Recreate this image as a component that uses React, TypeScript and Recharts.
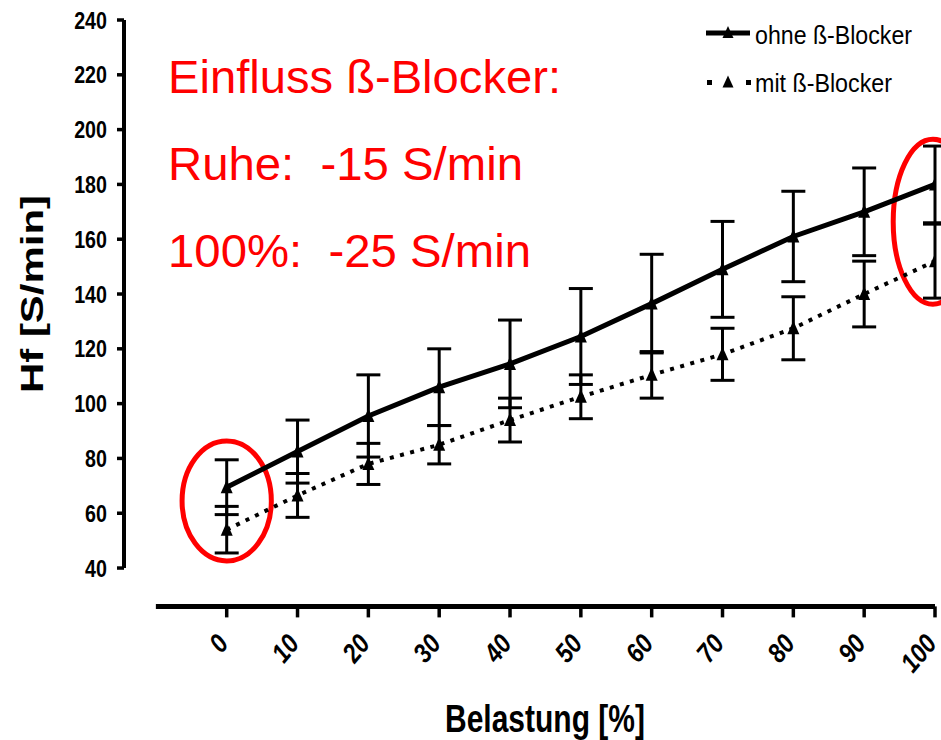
import { LineChart, Line, XAxis, YAxis, ErrorBar, ReferenceLine, ReferenceArea, Legend, Customized } from 'recharts';

// Belastung in %
const loads = [0, 10, 20, 30, 40, 50, 60, 70, 80, 90, 100];
// Hf ohne ß-Blocker (Mittelwert, SD)
const ohne = [69.5, 82.5, 95.5, 106, 114.5, 124.5, 136.5, 149, 161, 170, 180];
const ohneSd = [10, 11.5, 15, 14, 16, 17.5, 18, 17.5, 16.5, 16, 14];
// Hf mit ß-Blocker (Mittelwert, SD)
const mit = [54, 66.5, 78, 85, 94, 102.5, 110.5, 118, 127.5, 140, 152];
const mitSd = [8.5, 8, 7.5, 7, 8, 8, 8.5, 9.5, 11.5, 12, 13.5];

const yTicks = [40, 60, 80, 100, 120, 140, 160, 180, 200, 220, 240];

const seriesNames = ['ohne ß-Blocker', 'mit ß-Blocker'];

const data = loads.map((load, i) => ({
  load,
  ohne: ohne[i],
  ohneSd: ohneSd[i],
  mit: mit[i],
  mitSd: mitSd[i],
}));

const FONT = '"Liberation Sans", Arial, sans-serif';

const Triangle = (props: any) => {
  const { cx, cy, index } = props;
  if (cx == null || cy == null) return null;
  return (
    <polygon
      key={`tri-${index}`}
      points={`${cx},${cy - 7.5} ${cx - 6},${cy + 6} ${cx + 6},${cy + 6}`}
      fill="#000"
    />
  );
};

const XTick = ({ x, y, payload }: any) => (
  <g transform={`translate(${x + 3},${y + 25}) rotate(-50)`}>
    <text
      transform="scale(0.86,1)"
      textAnchor="end"
      fontFamily={FONT}
      fontWeight="bold"
      fontStyle="italic"
      fontSize={27}
      fill="#000"
    >
      {payload.value}
    </text>
  </g>
);

const YTick = ({ x, y, payload }: any) => (
  <text
    transform={`translate(${x - 8},${y}) scale(0.82,1)`}
    textAnchor="end"
    dy="0.36em"
    fontFamily={FONT}
    fontWeight="bold"
    fontSize={24}
    fill="#000"
  >
    {payload.value}
  </text>
);

const Ellipse = (props: any) => {
  const { x, y, width, height } = props;
  return (
    <ellipse
      cx={x + width / 2}
      cy={y + height / 2}
      rx={width / 2}
      ry={height / 2}
      fill="none"
      stroke="#ff0000"
      strokeWidth={5}
    />
  );
};

const renderLegend = ({ payload }: any) => {
  const items = [...(payload || [])].sort(
    (a: any, b: any) => seriesNames.indexOf(a.value) - seriesNames.indexOf(b.value)
  );
  return (
    <svg width={241} height={100}>
      {items.map((entry: any, i: number) => {
        const cy = i === 0 ? 33 : 82.5;
        const dotted = i !== 0;
        return (
          <g key={`leg-${i}`}>
            {dotted ? (
              <>
                <rect x={7} y={cy - 2.5} width={5} height={5} fill="#000" />
                <rect x={46} y={cy - 2.5} width={5} height={5} fill="#000" />
              </>
            ) : (
              <line x1={6} x2={50} y1={cy} y2={cy} stroke="#000" strokeWidth={5} />
            )}
            <polygon points={`28,${cy - 7} 22.5,${cy + 5} 33.5,${cy + 5}`} fill="#000" />
            <text
              x={55}
              y={cy + (i === 0 ? 10.5 : 9.5)}
              fontFamily={FONT}
              fontSize={25}
              fill="#000"
              textLength={i === 0 ? 157 : 137}
              lengthAdjust="spacingAndGlyphs"
            >
              {entry.value}
            </text>
          </g>
        );
      })}
    </svg>
  );
};

const Annotations = () => (
  <g fontFamily={FONT} fill="#ff0000" fontSize={47}>
    <text x={168} y={93} textLength={393} lengthAdjust="spacingAndGlyphs">Einfluss ß-Blocker:</text>
    <text x={168} y={180} textLength={355} lengthAdjust="spacingAndGlyphs" style={{ whiteSpace: 'pre' }}>
      {'Ruhe:  -15 S/min'}
    </text>
    <text x={168} y={267} textLength={363} lengthAdjust="spacingAndGlyphs" style={{ whiteSpace: 'pre' }}>
      {'100%:  -25 S/min'}
    </text>
    <text
      transform="translate(43,294) rotate(-90)"
      textAnchor="middle"
      fontSize={32}
      fontWeight="bold"
      fill="#000"
      textLength={198}
      lengthAdjust="spacingAndGlyphs"
    >
      Hf [S/min]
    </text>
    <text
      x={545}
      y={732}
      textAnchor="middle"
      fontSize={38}
      fontWeight="bold"
      fill="#000"
      textLength={200}
      lengthAdjust="spacingAndGlyphs"
    >
      Belastung [%]
    </text>
  </g>
);

export default function App() {
  return (
    <div style={{ position: 'absolute', left: 0, top: 0, background: '#fff' }}>
      <LineChart width={941} height={740} data={data} margin={{ top: 20, right: 6, bottom: 0, left: 0 }}>
        <XAxis
          type="number"
          dataKey="load"
          domain={[-14.5, 100]}
          ticks={loads}
          interval={0}
          allowDataOverflow
          axisLine={false}
          tickLine={{ stroke: '#000', strokeWidth: 3.5 }}
          tickSize={11}
          tick={<XTick />}
          height={133.6}
        />
        <YAxis
          type="number"
          domain={[26, 240]}
          ticks={yTicks}
          interval={0}
          allowDataOverflow
          axisLine={false}
          tickLine={{ stroke: '#000', strokeWidth: 3.5 }}
          tickSize={7}
          tick={<YTick />}
          width={124}
        />
        <ReferenceLine
          segment={[{ x: -14.5, y: 40 }, { x: -14.5, y: 240 }]}
          stroke="#000"
          strokeWidth={4}
          ifOverflow="visible"
        />
        <ReferenceLine
          segment={[{ x: -10, y: 26 }, { x: 100, y: 26 }]}
          stroke="#000"
          strokeWidth={5}
          ifOverflow="visible"
        />
        <ReferenceArea x1={-6.3} x2={6.3} y1={42.6} y2={86.4} ifOverflow="visible" shape={<Ellipse />} />
        <ReferenceArea x1={94.1} x2={105.3} y1={136.3} y2={196.5} ifOverflow="visible" shape={<Ellipse />} />
        <Line
          name={seriesNames[0]}
          dataKey="ohne"
          type="linear"
          stroke="#000"
          strokeWidth={5}
          dot={Triangle}
          activeDot={false}
          isAnimationActive={false}
        >
          <ErrorBar dataKey="ohneSd" direction="y" width={12} strokeWidth={3} stroke="#000" isAnimationActive={false} />
        </Line>
        <Line
          name={seriesNames[1]}
          dataKey="mit"
          type="linear"
          stroke="#000"
          strokeWidth={4}
          strokeDasharray="4 6.5"
          dot={Triangle}
          activeDot={false}
          isAnimationActive={false}
        >
          <ErrorBar dataKey="mitSd" direction="y" width={12} strokeWidth={3} stroke="#000" isAnimationActive={false} />
        </Line>
        <Legend
          layout="vertical"
          align="center"
          verticalAlign="middle"
          content={renderLegend}
          wrapperStyle={{ position: 'absolute', left: 700, top: 0, width: 241, height: 100 }}
        />
        <Customized component={Annotations} />
      </LineChart>
    </div>
  );
}
